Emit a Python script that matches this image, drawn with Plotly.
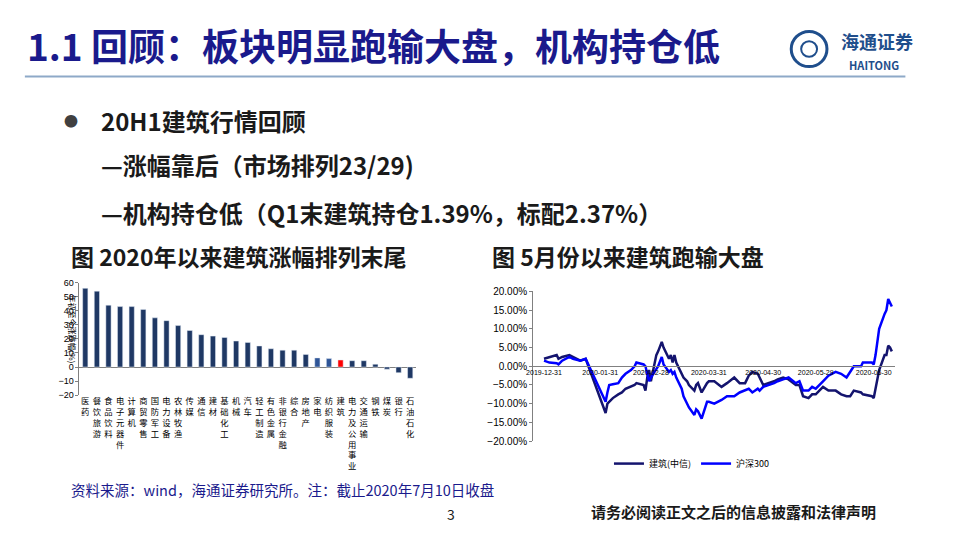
import plotly.graph_objects as go

W, H = 959, 539

# left chart: 2020 YTD change by sector (%)
sectors = ['医药', '餐饮旅游', '食品饮料', '电子元器件', '计算机', '商贸零售', '国防军工',
           '电力设备', '农林牧渔', '传媒', '通信', '建材', '基础化工', '机械', '汽车',
           '轻工制造', '有色金属', '非银行金融', '综合', '房地产', '家电', '纺织服装',
           '建筑', '电力及公用事业', '交通运输', '钢铁', '煤炭', '银行', '石油石化']
sector_chg = [56, 54, 44, 43, 43, 41, 35, 33, 29.5, 26, 23, 22, 21, 18.5, 17.5,
              15, 13, 12, 12, 9, 6.5, 6, 5, 4.5, 4.5, 2, -1.5, -4, -8]

# right chart: cumulative return (%)
dates = ['2019-12-31', '2020-01-03', '2020-01-07', '2020-01-08', '2020-01-10', '2020-01-14',
         '2020-01-16', '2020-01-20', '2020-01-23', '2020-02-03', '2020-02-04', '2020-02-05',
         '2020-02-07', '2020-02-10', '2020-02-12', '2020-02-14', '2020-02-17', '2020-02-19',
         '2020-02-20', '2020-02-24', '2020-02-25', '2020-02-26', '2020-02-27', '2020-02-28',
         '2020-03-02', '2020-03-03', '2020-03-05', '2020-03-06', '2020-03-09', '2020-03-10',
         '2020-03-11', '2020-03-12', '2020-03-13', '2020-03-16', '2020-03-17', '2020-03-19',
         '2020-03-20', '2020-03-23', '2020-03-24', '2020-03-25', '2020-03-26', '2020-03-27',
         '2020-03-30', '2020-03-31', '2020-04-03', '2020-04-07', '2020-04-10', '2020-04-14',
         '2020-04-17', '2020-04-20', '2020-04-22', '2020-04-24', '2020-04-27', '2020-04-28',
         '2020-04-30', '2020-05-06', '2020-05-08', '2020-05-11', '2020-05-14', '2020-05-18',
         '2020-05-20', '2020-05-22', '2020-05-25', '2020-05-27', '2020-05-29', '2020-06-02',
         '2020-06-05', '2020-06-09', '2020-06-12', '2020-06-15', '2020-06-17', '2020-06-19',
         '2020-06-23', '2020-06-24', '2020-06-29', '2020-06-30', '2020-07-01', '2020-07-02',
         '2020-07-03', '2020-07-06', '2020-07-07', '2020-07-08', '2020-07-09', '2020-07-10']
jianzhu = [2, 2.5, 3, 2, 2.5, 3, 2.5, 1.5, 2, -12.5, -10, -9.5,
           -8.5, -7.5, -7, -6, -5.5, -5, -4.5, -5, -6.5, -3, -1, -4,
           3, 4, 6.5, 5, 2, 3, 1, 3, 1, -2, -3, -4,
           -5, -6.5, -5, -4.5, -6, -7, -4.5, -4, -4, -5.5, -4.5, -3,
           -4.5, -4.5, -2.5, -1.5, -2, -3, -5, -4, -3.5, -3, -3.5, -5,
           -5, -8, -8.5, -7.5, -7.5, -5.5, -6.5, -6.5, -7.5, -8, -8, -6.5,
           -7, -7.5, -8, -8.5, -6, -3, -1, 3, 3, 5.5, 5, 4]
hs300 = [1.5, 1, 0.8, 0.5, 1.5, 2.5, 2, 1.5, 2, -9.5, -7, -5,
         -4.8, -4.5, -3, -2, -1, 0, 1, 0.5, 0, -2.5, -4, -3,
         -1, 0, 2.5, 0.5, -1.5, -1, -2, -1.5, -3, -6, -8, -10,
         -11, -13, -11.5, -12, -13, -14, -9.5, -9.5, -10, -9, -8, -8,
         -7, -6.5, -6, -7, -6, -6.5, -5.5, -4.5, -4, -3.5, -3, -4.5,
         -4, -6.5, -6.5, -5.5, -6, -4, -2.5, -1.5, -2, -3, -1.5, 0,
         0, 1, 1, 0.5, 3, 7, 10, 14, 15, 18, 17, 16]

bar_colors = []
for s in sectors:
    if s == '建筑':
        bar_colors.append('#FF0000')
    elif s in ('家电', '纺织服装'):
        bar_colors.append('#2F5597')
    else:
        bar_colors.append('#1F3864')

fig = go.Figure()

fig.add_trace(go.Bar(x=sectors, y=sector_chg, marker_color=bar_colors, width=0.45,
                     xaxis='x', yaxis='y', showlegend=False))

fig.add_trace(go.Scatter(x=dates, y=jianzhu, mode='lines', name='建筑(中信)',
                         line=dict(color='#14146E', width=2.5), xaxis='x2', yaxis='y2'))
fig.add_trace(go.Scatter(x=dates, y=hs300, mode='lines', name='沪深300',
                         line=dict(color='#0000FF', width=2.5), xaxis='x2', yaxis='y2'))


def px(x):
    return x / W


def py(y):
    return 1 - y / H


ticktext = ['<br>'.join(list(s)) for s in sectors]

fig.update_layout(
    width=W, height=H, margin=dict(l=0, r=0, t=0, b=0),
    paper_bgcolor='white', plot_bgcolor='white',
    font=dict(family='Noto Sans CJK SC', color='black'),
    xaxis=dict(domain=[px(73), px(412)], anchor='y', tickmode='array', tickvals=sectors,
               ticktext=ticktext, tickangle=0, tickfont=dict(size=8.3),
               showline=False, ticks=''),
    yaxis=dict(domain=[py(398), py(283)], anchor='x', range=[-20, 60], dtick=10,
               showgrid=False, showline=True, linecolor='#808080', ticks='outside',
               ticklen=3, tickcolor='#808080', tickfont=dict(size=9, family='Liberation Sans'),
               zeroline=True, zerolinecolor='#808080', zerolinewidth=1),
    xaxis2=dict(domain=[px(530), px(895)], anchor='free', position=py(368), type='date',
                range=['2019-12-25', '2020-07-12'],
                tickvals=['2019-12-31', '2020-01-31', '2020-02-28', '2020-03-31',
                          '2020-04-30', '2020-05-29', '2020-06-30'],
                ticktext=['2019-12-31', '2020-01-31', '2020-02-28', '2020-03-31',
                          '2020-04-30', '2020-05-29', '2020-06-30'],
                tickfont=dict(size=7, family='Liberation Sans'), showline=True,
                linecolor='#808080', ticks='', showgrid=False),
    yaxis2=dict(domain=[py(445), py(292)], anchor='x2', range=[-20, 20], dtick=5,
                tickformat='.2f', ticksuffix='%', showgrid=False, showline=True,
                linecolor='#808080', ticks='outside', ticklen=3, tickcolor='#808080',
                tickfont=dict(size=10, family='Liberation Sans'), zeroline=False),
    legend=dict(orientation='h', x=px(690), xanchor='center', y=py(468), yanchor='middle',
                font=dict(size=9, family='Noto Sans CJK SC'), bgcolor='rgba(0,0,0,0)'),
)

# y axis title of left chart
fig.add_annotation(text='年初至今涨跌幅(%)', x=px(58), y=py(330), xref='paper', yref='paper',
                   textangle=90, showarrow=False, font=dict(size=8, color='black'))

navy = '#1A1A8C'
texts = [
    ('<b>1.1 回顾：板块明显跑输大盘，机构持仓低</b>', 18, 40, 37, navy),
    ('<b>20H1建筑行情回顾</b>', 93, 117, 24, '#1A1A1A'),
    ('<b>—涨幅靠后（市场排列23/29)</b>', 93, 162, 24, '#1A1A1A'),
    ('<b>—机构持仓低（Q1末建筑持仓1.39%，标配2.37%）</b>', 93, 211, 24, '#1A1A1A'),
    ('<b>图 2020年以来建筑涨幅排列末尾</b>', 62, 256, 23, '#1A1A1A'),
    ('<b>图 5月份以来建筑跑输大盘</b>', 487, 256, 23, '#1A1A1A'),
    ('资料来源：wind，海通证券研究所。注：截止2020年7月10日收盘', 62, 495, 14.5, '#1A1A8C'),
    ('3', 441, 520, 14, '#1A1A1A'),
    ('<b>请务必阅读正文之后的信息披露和法律声明</b>', 586, 517, 15, '#1A1A1A'),
    ('●', 55, 117, 14, '#404040'),
    ('<b>海通证券</b>', 838, 36, 18, '#1F4E8C'),
    ('<b>HAITONG</b>', 846, 60, 11, '#1F4E8C'),
]
for t, x, y, s, c in texts:
    fig.add_annotation(text=t, x=px(x), y=py(y), xref='paper', yref='paper', xanchor='left',
                       yanchor='middle', showarrow=False, font=dict(size=s, color=c))

# rule under title and logo mark
fig.add_shape(type='line', x0=px(18), x1=px(905), y0=py(72), y1=py(72), xref='paper',
              yref='paper', line=dict(color='#8EA9C8', width=2))
fig.add_shape(type='circle', x0=px(790), x1=px(826), y0=py(62), y1=py(26), xref='paper',
              yref='paper', line=dict(color='#1F4E8C', width=3))
fig.add_shape(type='circle', x0=px(800), x1=px(816), y0=py(52), y1=py(36), xref='paper',
              yref='paper', line=dict(color='#1F4E8C', width=2))

fig.write_html('out.html', config={'displayModeBar': False},
               post_script="document.body.style.margin='0';document.body.style.overflow='hidden';")
